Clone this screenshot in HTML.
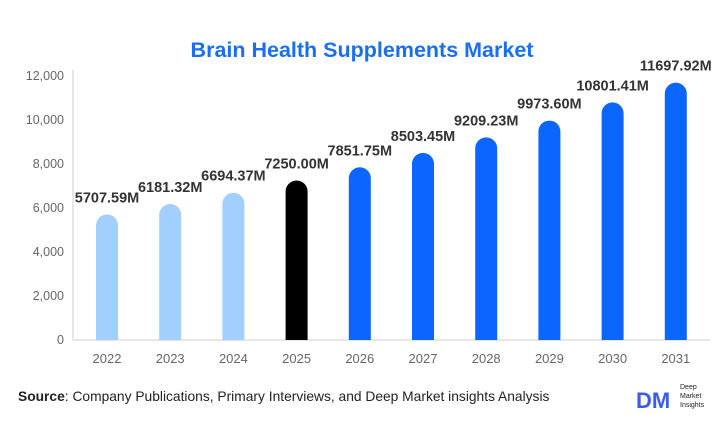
<!DOCTYPE html>
<html><head><meta charset="utf-8"><style>
body{margin:0;background:#fff;width:726px;height:443px;overflow:hidden;font-family:"Liberation Sans",sans-serif}
</style></head><body>
<svg width="726" height="443" id="svg">
<text x="362" y="57" text-anchor="middle" font-size="21.5" font-weight="bold" fill="#1a6fee">Brain Health Supplements Market</text>
<line x1="73" y1="70" x2="73" y2="340" stroke="#ccc"/>
<line x1="73" y1="340" x2="710" y2="340" stroke="#ccc"/>
<g id="g"></g>
<text x="18" y="401" font-size="13.8" fill="#222"><tspan font-weight="bold">Source</tspan>: Company Publications, Primary Interviews, and Deep Market insights Analysis</text>
<g>
<text x="636" y="408" font-size="22" font-weight="bold" fill="#3a5cf0">DM</text>
<text x="680" y="389" font-size="7" fill="#222">Deep</text>
<text x="680" y="398" font-size="7" fill="#222">Market</text>
<text x="680" y="407" font-size="7" fill="#222">Insights</text>
</g>
</svg>
<script>
const years=["2022","2023","2024","2025","2026","2027","2028","2029","2030","2031"];
const values=[5707.59,6181.32,6694.37,7250.00,7851.75,8503.45,9209.23,9973.60,10801.41,11697.92];
const yTicks=[0,2000,4000,6000,8000,10000,12000];
const y=v=>340-v*0.022;
const x=i=>107+i*63.2;
const g=document.getElementById('g');
const NS="http://www.w3.org/2000/svg";
yTicks.forEach(t=>{
 const e=document.createElementNS(NS,'text');
 e.setAttribute('x',64);e.setAttribute('y',y(t)+4);e.setAttribute('text-anchor','end');
 e.setAttribute('font-size','12.5');e.setAttribute('fill','#666');
 e.textContent=t.toLocaleString('en-US');
 
 
 g.appendChild(e);
});
values.forEach((v,i)=>{
 const cx=x(i),top=y(v),w=22;
 const col=i<3?'#a3cfff':(i==3?'#000':'#0b66ff');
 const p=document.createElementNS(NS,'path');
 p.setAttribute('d',`M${cx-w/2},340 V${top+w/2} A${w/2},${w/2} 0 0 1 ${cx+w/2},${top+w/2} V340 Z`);
 p.setAttribute('fill',col);
 
 
 g.appendChild(p);
 const l=document.createElementNS(NS,'text');
 l.setAttribute('x',cx);l.setAttribute('y',top-12);l.setAttribute('text-anchor','middle');
 l.setAttribute('font-size','14.5');l.setAttribute('font-weight','bold');l.setAttribute('fill','#333');
 l.textContent=v.toFixed(2)+'M';
 
 
 g.appendChild(l);
 const t=document.createElementNS(NS,'text');
 t.setAttribute('x',cx);t.setAttribute('y',363);t.setAttribute('text-anchor','middle');
 t.setAttribute('font-size','13');t.setAttribute('fill','#666');
 t.textContent=years[i];
 
 
 g.appendChild(t);
});
</script>
</body></html>
